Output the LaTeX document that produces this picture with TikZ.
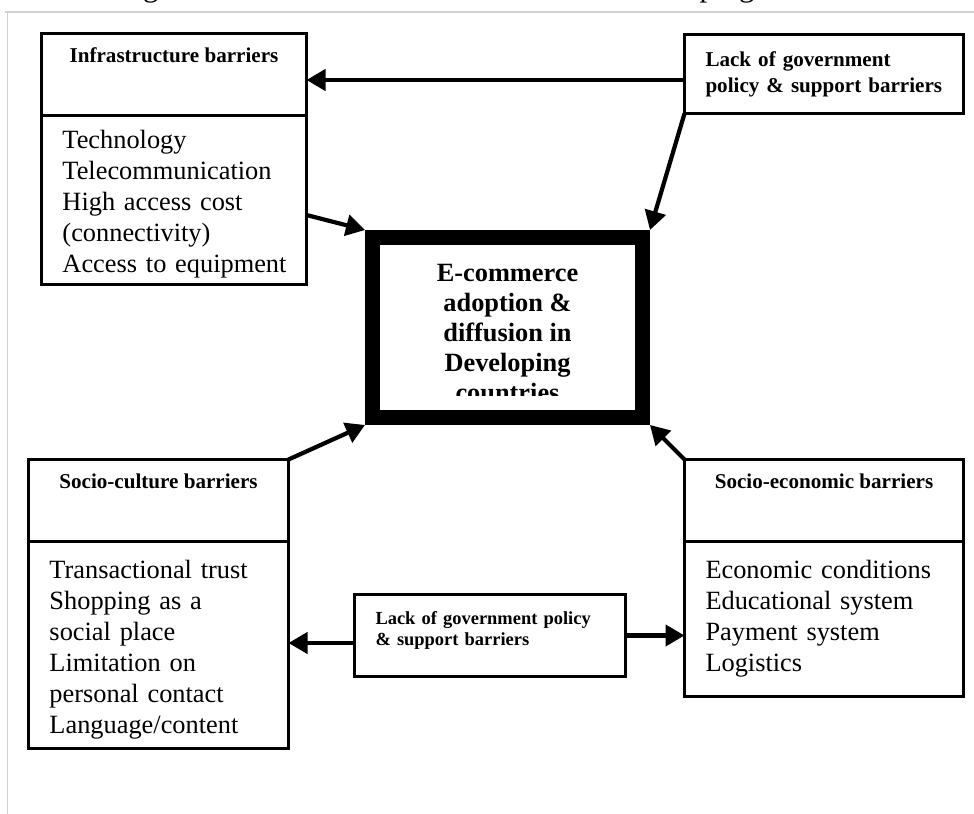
\documentclass[tikz,border=0pt]{standalone}
\usepackage{fontspec}
\setmainfont{Liberation Serif}
\usetikzlibrary{arrows.meta}

\newcommand\barriertitlestyle{\fontsize{12}{14}\selectfont\bfseries}
\newcommand\barrieritemstyle{\fontsize{15}{17.6}\selectfont}
\newcommand\policystyle{\fontsize{12}{14.7}\selectfont\bfseries}
\newcommand\policysmallstyle{\fontsize{10.5}{12.5}\selectfont\bfseries}
\newcommand\corestyle{\fontsize{15}{17.07}\selectfont\bfseries}
\newcommand\captionstyle{\fontsize{17.6}{20}\selectfont}
\newcommand\barrierline{1.8pt}
\newcommand\barrierheadheight{1.64cm}
\definecolor{framegray}{gray}{0.82}

\tikzset{
  barrierhead/.style={draw, line width=\barrierline, outer sep=0pt, anchor=north west,
    minimum height=\barrierheadheight},
  barriertitle/.style={anchor=base, font=\barriertitlestyle},
  barrierbody/.style={draw, line width=\barrierline, outer sep=0pt, anchor=north west,
    align=left, inner xsep=0.42cm, inner ysep=0pt, font=\barrieritemstyle},
  policybox/.style={draw, line width=\barrierline, outer sep=0pt, anchor=north west,
    align=left, inner xsep=0.42cm},
  corebox/.style={draw, line width=8.5pt, minimum width=5.4cm, minimum height=3.6cm},
  flow/.style={-{Triangle[length=0.38cm, width=0.42cm]}, line width=2.4pt},
}

\begin{document}
\begin{tikzpicture}
    \useasboundingbox (0,0) rectangle (19.48,-16.28);
    \draw[framegray, line width=0.9pt] (0.1,-0.24) -- (19.48,-0.24);
    \draw[framegray, line width=0.9pt] (0.15,-0.24) -- (0.15,-16.28);
    \node[anchor=base west, font=\captionstyle, inner sep=0pt] (caption) at (2.34,0.06)
      {Figure 1: Barriers to e-commerce in the developing countries};

    \node[barrierhead, minimum width=5.3cm] (infraHead) at (0.83,-0.67) {};
    \node[barriertitle] (infraTitle) at ([yshift=-0.58cm]infraHead.north) {Infrastructure barriers};
    \node[barrierbody, text width=4.46cm, minimum height=3.38cm, text height=0.54cm] (infraBody)
      at (infraHead.south west)
      {Technology\\Telecommunication\\High access cost\\(connectivity)\\\mbox{Access to equipment}};

    \node[barrierhead, minimum width=5.2cm] (cultHead) at (0.57,-9.19) {};
    \node[barriertitle] (cultTitle) at ([yshift=-0.58cm]cultHead.north) {Socio-culture barriers};
    \node[barrierbody, text width=4.36cm, minimum height=4.14cm, text height=0.56cm] (cultBody)
      at (cultHead.south west)
      {Transactional trust\\Shopping as a\\social place\\Limitation on\\personal contact\\Language/content};

    \node[barrierhead, minimum width=5.58cm] (econHead) at (13.69,-9.19) {};
    \node[barriertitle] (econTitle) at ([yshift=-0.58cm]econHead.north) {Socio-economic barriers};
    \node[barrierbody, text width=4.74cm, minimum height=3.1cm] (econBody) at (econHead.south west)
      {Economic conditions\\Educational system\\Payment system\\Logistics};

    \node[policybox, text width=4.74cm, minimum height=1.58cm, font=\policystyle] (govTop) at (13.69,-0.69)
      {Lack of government\\policy \& support barriers};
    \node[policybox, text width=4.58cm, minimum height=1.64cm, text depth=0.72cm, font=\policysmallstyle]
      (govLow) at (7.09,-11.89)
      {Lack of government policy\\\& support barriers};

    \node[corebox] (ecom) at (10.15,-6.55) {};
    \begin{scope}
      \clip (7.6,-4.8) rectangle (12.7,-7.9);
      \node[font=\corestyle, align=center, inner sep=0pt] (ecomText) at (10.15,-6.66)
        {E-commerce\\adoption \&\\diffusion in\\Developing\\countries};
    \end{scope}

    \draw[flow] ([yshift=-0.12cm]govTop.west) -- ([yshift=-0.12cm]govTop.west -| infraHead.east);
    \draw[flow] (govTop.south west) -- (ecom.north east);
    \draw[flow] ([yshift=-0.3cm]infraBody.east) -- (ecom.north west);
    \draw[flow] (cultHead.north east) -- (ecom.south west);
    \draw[flow] (econHead.north west) -- (ecom.south east);
    \draw[flow] ([yshift=-0.15cm]govLow.west) -- ([yshift=-0.15cm]govLow.west -| cultBody.east);
    \draw[flow] (govLow.east) -- (govLow.east -| econBody.west);
\end{tikzpicture}
\end{document}
